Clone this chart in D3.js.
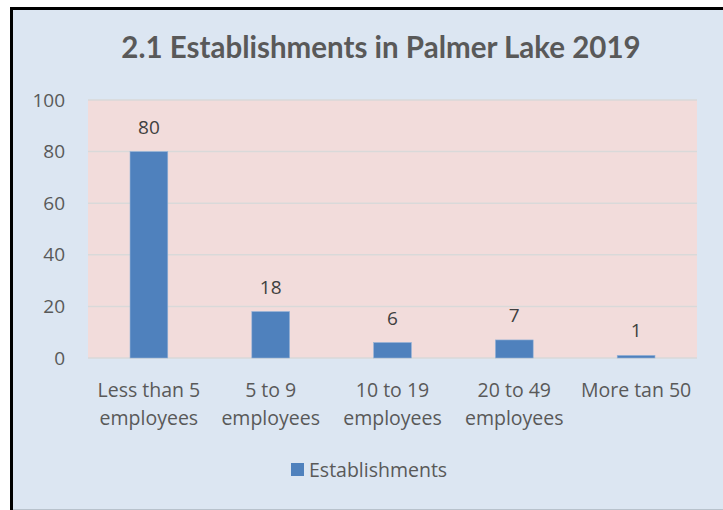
<!DOCTYPE html>
<html>
<head>
<meta charset="utf-8">
<script src="https://cdn.jsdelivr.net/npm/d3@7"></script>
<style>
  body { margin: 0; background: #fff; }
  svg { display: block; font-family: "Open Sans", Lato, sans-serif; }
</style>
</head>
<body>
<svg id="chart" width="723" height="510"></svg>
<script>
// data
var categories = [["Less than 5", "employees"], ["5 to 9", "employees"], ["10 to 19", "employees"], ["20 to 49", "employees"], ["More tan 50"]];
var values = [80, 18, 6, 7, 1];
var yTicks = [0, 20, 40, 60, 80, 100];
var seriesName = "Establishments";
var title = "2.1 Establishments in Palmer Lake 2019";

var svg = d3.select("#chart"),
  margin = { top: 100, right: 26, bottom: 152, left: 88 },
  width = 723 - margin.left - margin.right,
  height = 510 - margin.top - margin.bottom;

// chart background + frame
svg.append("rect").attr("x", 12).attr("y", 9).attr("width", 711).attr("height", 500).attr("fill", "#dce6f2");
svg.append("line").attr("x1", 11.5).attr("x2", 11.5).attr("y1", 7).attr("y2", 510).attr("stroke", "#000").attr("stroke-width", 3);
svg.append("line").attr("x1", 10).attr("x2", 723).attr("y1", 8.5).attr("y2", 8.5).attr("stroke", "#000").attr("stroke-width", 3);
svg.append("line").attr("x1", 13).attr("x2", 723).attr("y1", 509.5).attr("y2", 509.5).attr("stroke", "#b8c2cc").attr("stroke-width", 1);

svg.append("text").attr("x", 381).attr("y", 58).attr("text-anchor", "middle")
  .attr("font-family", "Lato, sans-serif")
  .attr("font-size", 29.5).attr("font-weight", "bold").attr("fill", "#595959").text(title);

var g = svg.append("g").attr("transform", "translate(" + margin.left + "," + margin.top + ")");

var x = d3.scaleBand().domain(d3.range(values.length)).range([0, width]).paddingInner(0.69).paddingOuter(0.345);
var y = d3.scaleLinear().domain([0, 100]).range([height, 0]);

g.append("rect").attr("width", width).attr("height", height).attr("fill", "#f2dcdb");

// gridlines
g.selectAll(".grid").data(yTicks).join("line").attr("class", "grid")
  .attr("x1", 0).attr("x2", width)
  .attr("y1", d => y(d)).attr("y2", d => y(d))
  .attr("stroke", "#d9d9d9").attr("stroke-width", 1.5);

// y axis labels
var yAxis = g.append("g").attr("transform", "translate(-23,0)")
  .call(d3.axisLeft(y).tickValues(yTicks).tickSize(0).tickPadding(0));
yAxis.select(".domain").remove();
yAxis.selectAll("text").attr("font-family", "'Open Sans', sans-serif").attr("font-size", 19).attr("fill", "#595959");

// bars
g.selectAll(".bar").data(values).join("rect").attr("class", "bar")
  .attr("x", (d, i) => x(i))
  .attr("y", d => y(d))
  .attr("width", x.bandwidth())
  .attr("height", d => height - y(d))
  .attr("fill", "#4f81bd")
  .attr("stroke", "#95b3d7").attr("stroke-width", 0.6);

// value labels
g.selectAll(".lbl").data(values).join("text").attr("class", "lbl")
  .attr("x", (d, i) => x(i) + x.bandwidth() / 2)
  .attr("y", d => y(d) - 18)
  .attr("text-anchor", "middle").attr("font-size", 19).attr("fill", "#404040")
  .text(d => d);

// category labels
var cat = g.selectAll(".cat").data(categories).join("text").attr("class", "cat")
  .attr("text-anchor", "middle").attr("font-size", 19.5).attr("fill", "#595959");
cat.selectAll("tspan").data((d, i) => d.map(s => ({ s: s, i: i }))).join("tspan")
  .attr("x", d => x(d.i) + x.bandwidth() / 2)
  .attr("y", (d, j) => height + 39 + j * 28)
  .text(d => d.s);

// legend
svg.append("rect").attr("x", 291).attr("y", 463).attr("width", 13).attr("height", 13).attr("fill", "#4f81bd");
svg.append("text").attr("x", 309).attr("y", 477).attr("font-size", 19.5).attr("fill", "#595959").text(seriesName);
</script>
</body>
</html>
